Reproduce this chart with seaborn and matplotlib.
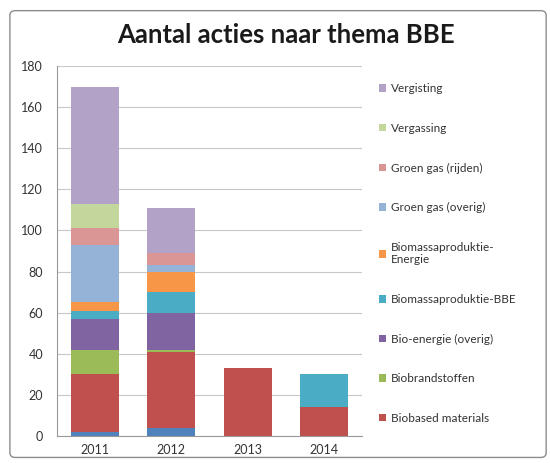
import pandas as pd
import seaborn as sns
import matplotlib.pyplot as plt
from matplotlib.patches import Patch, FancyBboxPatch

sns.set_theme(style="whitegrid")
plt.rcParams['font.family'] = ['Lato', 'DejaVu Sans']

years = ["2011", "2012", "2013", "2014"]

# stapelvolgorde van onder naar boven
overig_blauw = [2, 4, 0, 0]
biobased_materials = [28, 37, 33, 14]
biobrandstoffen = [12, 1, 0, 0]
bio_energie_overig = [15, 18, 0, 0]
biomassa_bbe = [4, 10, 0, 16]
biomassa_energie = [4, 10, 0, 0]
groen_gas_overig = [28, 3, 0, 0]
groen_gas_rijden = [8, 6, 0, 0]
vergassing = [12, 0, 0, 0]
vergisting = [57, 22, 0, 0]

series = [
    ("Overig", overig_blauw, "#4F81BD"),
    ("Biobased materials", biobased_materials, "#C0504D"),
    ("Biobrandstoffen", biobrandstoffen, "#9BBB59"),
    ("Bio-energie (overig)", bio_energie_overig, "#8064A2"),
    ("Biomassaproduktie-BBE", biomassa_bbe, "#4BACC6"),
    ("Biomassaproduktie-\nEnergie", biomassa_energie, "#F79646"),
    ("Groen gas (overig)", groen_gas_overig, "#95B3D7"),
    ("Groen gas (rijden)", groen_gas_rijden, "#D99694"),
    ("Vergassing", vergassing, "#C3D69B"),
    ("Vergisting", vergisting, "#B2A2C7"),
]

df = pd.DataFrame({name: vals for name, vals, _ in series}, index=years)
cum = df.cumsum(axis=1)

fig = plt.figure(figsize=(5.5, 4.63), dpi=100)
fig.patches.append(FancyBboxPatch((0.018, 0.012), 0.975, 0.965,
                                  boxstyle="round,pad=0,rounding_size=0.01",
                                  transform=fig.transFigure, fill=False,
                                  edgecolor="#8c8c8c", linewidth=1.0))
ax = fig.add_axes([0.1036, 0.0583, 0.5545, 0.7991])

# bovenste laag eerst tekenen, daarna de lagere lagen eroverheen
for name, _, color in reversed(series):
    sns.barplot(x=years, y=cum[name].values, color=color, width=0.63,
                saturation=1, linewidth=0, ax=ax)

ax.set_ylim(0, 180)
ax.set_yticks(range(0, 181, 20))
ax.set_xlim(-0.5, 3.5)
ax.grid(axis="y", color="#c8c8c8", linewidth=0.8)
ax.grid(axis="x", visible=False)
ax.set_axisbelow(True)
for side in ["top", "right"]:
    ax.spines[side].set_visible(False)
for side in ["left", "bottom"]:
    ax.spines[side].set_color("#999999")
    ax.spines[side].set_linewidth(0.8)
ax.tick_params(axis="y", length=4, color="#999999", labelsize=9, labelcolor="#333333", pad=6)
ax.tick_params(axis="x", length=0, labelsize=9, labelcolor="#333333", pad=6)
ax.set_facecolor("white")

fig.suptitle("Aantal acties naar thema BBE", x=0.52, y=0.95,
             fontsize=18.5, fontweight="bold", color="#1a1a1a")

handles = [Patch(facecolor=c, edgecolor="none", label=n) for n, _, c in reversed(series[1:])]
fig.legend(handles=handles, loc="upper left", bbox_to_anchor=(0.67, 0.843),
           frameon=False, fontsize=8.5, labelspacing=2.42, handlelength=0.6,
           handleheight=0.6, handletextpad=0.4, labelcolor="#333333")

plt.savefig("out.png", dpi=100)
